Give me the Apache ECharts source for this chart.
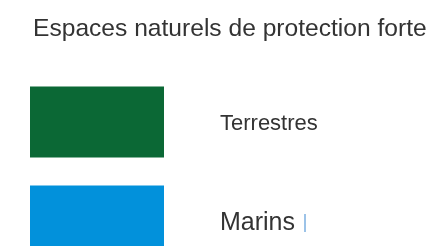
<!DOCTYPE html>
<html>
<head>
<meta charset="utf-8">
<script src="https://cdn.jsdelivr.net/npm/echarts@6/dist/echarts.min.js"></script>
<style>
  html, body { margin: 0; padding: 0; background: #fff; }
  #chart { width: 430px; height: 246px; }
</style>
</head>
<body>
<div id="chart"></div>
<script>
const titleText = 'Espaces naturels de protection forte'
const categories = ['Terrestres', 'Marins']
const values = [1, 1]
const colors = ['#0b6835', '#0291db']

const chart = echarts.init(document.getElementById('chart'))

// legend-like bars, categories sit on the grid edges (boundaryGap off)
const labelSizes = [22, 25]

chart.setOption({
  animation: false,
  textStyle: { fontFamily: 'Liberation Sans' },
  title: {
    text: titleText,
    left: 28, top: 12,
    textStyle: { fontSize: 24.6, fontWeight: 'normal', color: '#333', fontFamily: 'Liberation Sans' }
  },
  grid: { left: 30, top: 122, width: 134, height: 99 },
  xAxis: { type: 'value', min: 0, max: 1, show: false },
  yAxis: { type: 'category', data: categories, inverse: true, boundaryGap: false, show: false },
  series: [{
    type: 'bar',
    barWidth: 71,
    clip: false,
    data: values.map((v, i) => ({
      value: v,
      itemStyle: { color: colors[i] },
      label: {
        show: true,
        position: 'right',
        distance: 56,
        offset: [0, 2],
        formatter: i === 1 ? '{a|' + categories[i] + '}{gap|}{bar|}' : '{a|' + categories[i] + '}',
        rich: {
          a: { fontSize: labelSizes[i], color: '#333', fontFamily: 'Liberation Sans' },
          gap: { width: 9 },
          bar: { width: 2, height: 18, backgroundColor: '#9cc3e8' }
        }
      }
    }))
  }]
})
</script>
</body>
</html>
